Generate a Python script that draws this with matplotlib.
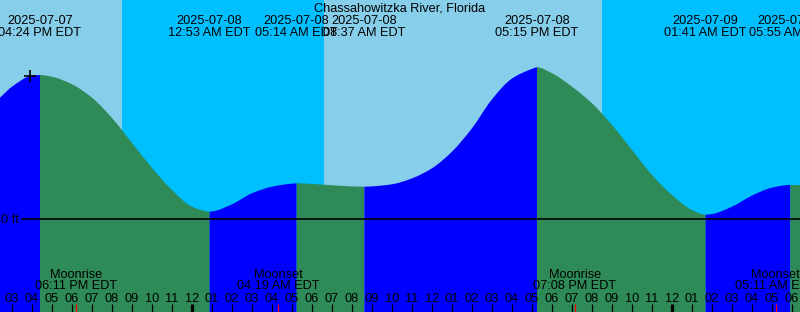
import matplotlib
matplotlib.use("Agg")
import matplotlib.pyplot as plt
import numpy as np
from matplotlib.path import Path
from matplotlib.patches import PathPatch
from matplotlib.transforms import blended_transform_factory

# ---- data (time in hours relative to 2025-07-08 00:00 EDT) ----
sample_hours = [-9.6, -9.0, -8.0, -7.6, -7.0, -6.0, -5.0, -4.0, -3.0, -2.0, -1.0,
                0.0, 0.883, 1.0, 2.0, 3.0, 4.0, 5.0, 5.233, 6.0, 7.0, 8.0, 8.617,
                9.0, 10.0, 11.0, 12.0, 13.0, 14.0, 15.0, 16.0, 17.0, 17.25, 18.0,
                19.0, 20.0, 21.0, 22.0, 23.0, 24.0, 25.0, 25.683, 26.0, 27.0, 28.0,
                29.0, 29.917, 30.4]
sample_heights_ft = [0.758, 0.827, 0.896, 0.900, 0.889, 0.842, 0.758, 0.631, 0.475, 0.319, 0.181,
                     0.077, 0.046, 0.047, 0.092, 0.161, 0.202, 0.221, 0.223, 0.219, 0.211, 0.204, 0.202,
                     0.204, 0.217, 0.254, 0.317, 0.421, 0.567, 0.748, 0.878, 0.938, 0.948, 0.911,
                     0.827, 0.723, 0.588, 0.431, 0.275, 0.150, 0.056, 0.027, 0.031, 0.077, 0.146,
                     0.196, 0.213, 0.211]

extreme_hours = [-7.6, 0.883, 5.233, 8.617, 17.25, 25.683, 29.917]
extreme_dates = ["2025-07-07", "2025-07-08", "2025-07-08", "2025-07-08",
                 "2025-07-08", "2025-07-09", "2025-07-09"]
extreme_times = ["04:24 PM EDT", "12:53 AM EDT", "05:14 AM EDT", "08:37 AM EDT",
                 "05:15 PM EDT", "01:41 AM EDT", "05:55 AM EDT"]

night_spans = [(-3.5, 6.58), (20.48, 30.4)]

moon_hours = [-5.817, 4.317, 19.133, 29.183]
moon_events = ["Moonrise", "Moonset", "Moonrise", "Moonset"]
moon_times = ["06:11 PM EDT", "04:19 AM EDT", "07:08 PM EDT", "05:11 AM EDT"]

hour_ticks = list(range(-9, 31))
hour_labels = ["03", "04", "05", "06", "07", "08", "09", "10", "11", "12",
               "01", "02", "03", "04", "05", "06", "07", "08", "09", "10", "11", "12",
               "01", "02", "03", "04", "05", "06", "07", "08", "09", "10", "11", "12",
               "01", "02", "03", "04", "05", "06"]
midnight_hours = [0, 24]

title = "Chassahowitzka River, Florida"
now_hour = -8.1
now_height = 0.894

# ---- layout ----
W, H = 800, 312
X0, X1 = -9.6, 30.4
PX_PER_FT = 160.0
Y_TOP = 219 / PX_PER_FT
Y_BOT = -(H - 219) / PX_PER_FT

DAY = "#87CEEB"
NIGHT = "#00BFFF"
RISE = "#0000FF"
FALL = "#2E8B57"
FONT = "Liberation Sans"
FS = 9.2

fig = plt.figure(figsize=(W / 100, H / 100), dpi=100)
ax = fig.add_axes([0, 0, 1, 1])
ax.set_xlim(X0, X1)
ax.set_ylim(Y_BOT, Y_TOP)
ax.axis("off")
fig.patch.set_facecolor(DAY)

for a, b in night_spans:
    ax.axvspan(a, b, color=NIGHT, lw=0, zorder=0)

t = np.array(sample_hours, dtype=float)
h = np.array(sample_heights_ft, dtype=float)

# shape-preserving tangents so the drawn line passes smoothly through read points
hk = np.diff(t)
dk = np.diff(h) / hk
slopes = np.zeros_like(h)
slopes[0], slopes[-1] = dk[0], dk[-1]
for k in range(1, len(h) - 1):
    if dk[k - 1] * dk[k] <= 0:
        slopes[k] = 0.0
    else:
        w1 = 2 * hk[k] + hk[k - 1]
        w2 = hk[k] + 2 * hk[k - 1]
        slopes[k] = (w1 + w2) / (w1 / dk[k - 1] + w2 / dk[k])

bounds = [X0] + extreme_hours + [X1]
for a, b in zip(bounds[:-1], bounds[1:]):
    idx = [i for i in range(len(t)) if a - 1e-9 <= t[i] <= b + 1e-9]
    col = RISE if h[idx[-1]] > h[idx[0]] else FALL
    verts = [(t[idx[0]], Y_BOT), (t[idx[0]], h[idx[0]])]
    codes = [Path.MOVETO, Path.LINETO]
    for i, j in zip(idx[:-1], idx[1:]):
        step = t[j] - t[i]
        verts += [(t[i] + step / 3, h[i] + slopes[i] * step / 3),
                  (t[j] - step / 3, h[j] - slopes[j] * step / 3),
                  (t[j], h[j])]
        codes += [Path.CURVE4] * 3
    verts += [(t[idx[-1]], Y_BOT), (t[idx[0]], Y_BOT)]
    codes += [Path.LINETO, Path.CLOSEPOLY]
    ax.add_patch(PathPatch(Path(verts, codes), facecolor=col, edgecolor="none",
                           lw=0, zorder=1, antialiased=True))

# zero line
ax.axhline(0, xmin=22 / W, xmax=1, color="black", lw=1.2, zorder=3)
tr_px = blended_transform_factory(ax.transData, ax.transAxes)


def yfrac(py):
    return 1 - py / H


ax.text(19 / W, yfrac(222.7), "0 ft", transform=ax.transAxes, ha="right", va="baseline",
        fontsize=FS, family=FONT, zorder=4)

# now marker
ax.plot([now_hour], [now_height], marker="+", ms=8, mew=1.2, color="black", zorder=5)

# title & extreme labels
ax.text(0.5, yfrac(11.7), title, transform=ax.transAxes, ha="center", va="baseline",
        fontsize=FS, family=FONT, zorder=6)
for x, d, s in zip(extreme_hours, extreme_dates, extreme_times):
    ax.text(x, yfrac(24.3), d, transform=tr_px, ha="center", va="baseline",
            fontsize=FS, family=FONT, zorder=6)
    ax.text(x, yfrac(36.0), s, transform=tr_px, ha="center", va="baseline",
            fontsize=FS, family=FONT, zorder=6)

# moon labels
for x, e, s in zip(moon_hours, moon_events, moon_times):
    ax.text(x, yfrac(278.3), e, transform=tr_px, ha="center", va="baseline",
            fontsize=FS, family=FONT, zorder=6)
    ax.text(x, yfrac(289.3), s, transform=tr_px, ha="center", va="baseline",
            fontsize=FS, family=FONT, zorder=6)
    ax.plot([x, x], [yfrac(304), 0], transform=tr_px, color="red", lw=0.9, zorder=6,
            solid_capstyle="butt")

# hour ticks & labels
for x, lab in zip(hour_ticks, hour_labels):
    ax.text(x, yfrac(301.7), lab, transform=tr_px, ha="center", va="baseline",
            fontsize=FS, family=FONT, zorder=6)
    lw = 2.3 if x in midnight_hours else 0.9
    ax.plot([x, x], [yfrac(304), 0], transform=tr_px, color="black", lw=lw, zorder=5,
            solid_capstyle="butt")

fig.savefig("out.png", dpi=100, facecolor=fig.get_facecolor())
